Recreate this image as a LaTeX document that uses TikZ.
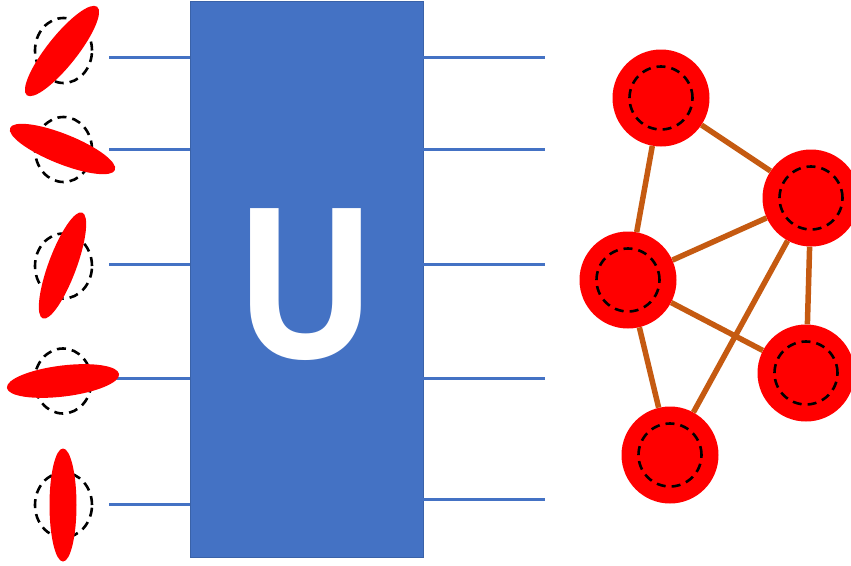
\documentclass[tikz,border=0pt]{standalone}
\usepackage{fontspec}
\setmainfont{Open Sans}
\usetikzlibrary{shapes.geometric}
\definecolor{ublue}{HTML}{4472C4}
\definecolor{uborder}{HTML}{3A62A8}
\definecolor{edgeor}{HTML}{C55A11}
\definecolor{qred}{HTML}{FF0000}
\tikzset{
  wire/.style={draw=ublue, line width=3pt},
  qell/.style={ellipse, fill=qred, draw=none, minimum width=113pt, minimum height=30pt, inner sep=0pt},
  qdash/.style={ellipse, draw=black, line width=2.6pt, dash pattern=on 9pt off 6pt, minimum width=57pt, minimum height=65pt, inner sep=0pt},
  gnode/.style={circle, fill=qred, draw=none, minimum size=97pt, inner sep=0pt},
  gdash/.style={circle, draw=black, line width=2.6pt, dash pattern=on 9pt off 6pt, minimum size=63pt, inner sep=0pt},
  gedge/.style={draw=edgeor, line width=5.5pt},
}
\begin{document}
\begin{tikzpicture}[x=1pt,y=-1pt]
\useasboundingbox (0,0) rectangle (851,565);
% unitary box
\node[draw=uborder, line width=1pt, fill=ublue, minimum width=233pt, minimum height=556pt, inner sep=0pt, anchor=north west] (U) at (190,1) {};
\node[text=white, font=\fontsize{210}{210}\selectfont\bfseries, anchor=base, inner sep=0pt, xscale=0.9] (Ulabel) at (306,358) {U};
% wires
\foreach \i/\yl/\yr in {1/57/57, 2/149/149, 3/264/264, 4/378/378, 5/504/499} {
  \coordinate (in\i) at (109,\yl);
  \coordinate (out\i) at (545,\yr);
  \draw[wire] (in\i) -- (190,\yl);
  \draw[wire] (423,\yr) -- (out\i);
}
% qubits left
\node[qdash] (d1) at (63.5,50.5) {};
\node[qdash] (d2) at (63.5,149.5) {};
\node[qdash] (d3) at (63.5,266) {};
\node[qdash] (d4) at (63,381) {};
\node[qdash] (d5) at (63.5,505) {};
\node[qell, rotate=51.5] (e1) at (62,51) {};
\node[qell, rotate=-21.8] (e2) at (62.5,149) {};
\node[qell, rotate=69.6, minimum height=28pt] (e3) at (62.5,265.5) {};
\node[qell, rotate=7, minimum height=31pt] (e4) at (63,381) {};
\node[qell, rotate=90, minimum height=27pt] (e5) at (63,505) {};
% graph
\coordinate (pA) at (661,98);
\coordinate (pB) at (811,198);
\coordinate (pC) at (628,280);
\coordinate (pD) at (806,373);
\coordinate (pE) at (670,455);
\node[gnode] (A) at (pA) {};
\node[gnode] (B) at (pB) {};
\node[gnode] (C) at (pC) {};
\node[gnode] (D) at (pD) {};
\node[gnode] (E) at (pE) {};
\draw[gedge] (A) -- (C);
\draw[gedge] (A) -- (B);
\draw[gedge] (C) -- (B);
\draw[gedge] (B) -- (D);
\draw[gedge] (B) -- (E);
\draw[gedge] (C) -- (D);
\draw[gedge] (C) -- (E);
\node[gdash] (Ad) at (pA) {};
\node[gdash] (Bd) at (pB) {};
\node[gdash] (Cd) at (pC) {};
\node[gdash] (Dd) at (pD) {};
\node[gdash] (Ed) at (pE) {};
\end{tikzpicture}
\end{document}
